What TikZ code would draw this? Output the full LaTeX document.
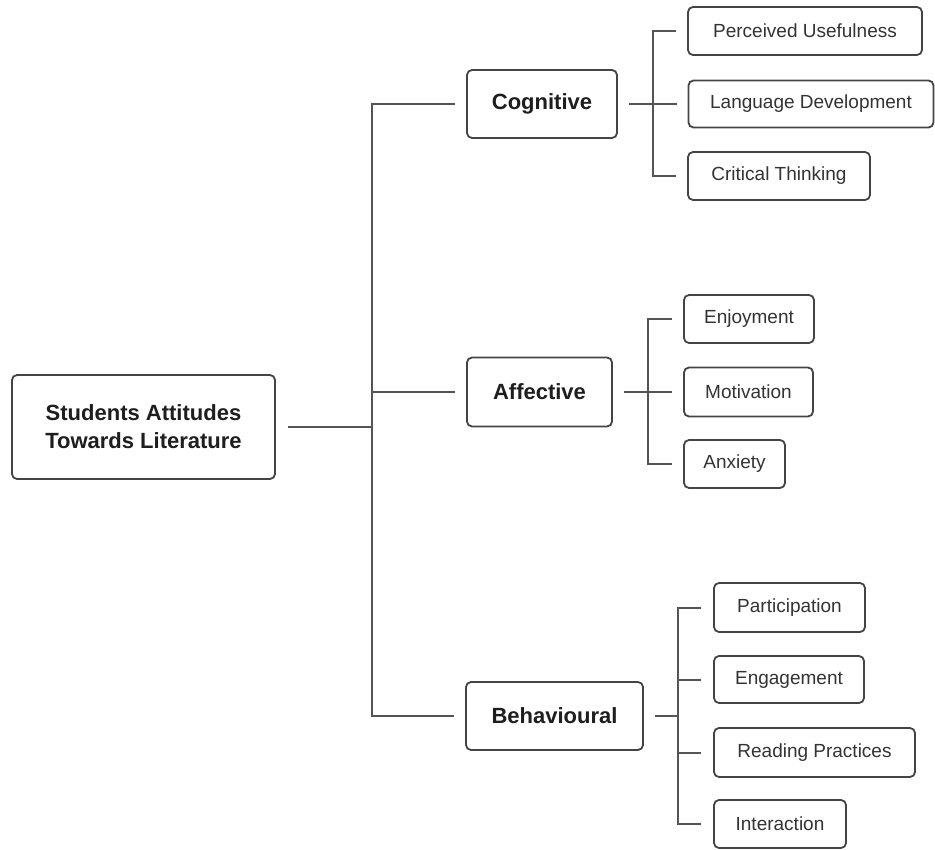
\documentclass[tikz,border=0pt]{standalone}
\usepackage{fontspec}
\setmainfont{Liberation Sans}
\definecolor{linec}{HTML}{555555}
\definecolor{boxc}{HTML}{444444}
\definecolor{textc}{HTML}{333333}
\definecolor{boldc}{HTML}{1E1E1E}
\begin{document}
\begin{tikzpicture}[x=1pt,y=-1pt,
  conn/.style={draw=linec, line width=2pt},
  box/.style={draw=boxc, line width=1.8pt, rounded corners=5pt, inner sep=0pt, align=center, fill=white},
  mainbox/.style={box, font=\fontsize{22}{28}\selectfont\bfseries, text=boldc},
  subbox/.style={box, font=\fontsize{19}{24}\selectfont, text=textc}]
\useasboundingbox (0,0) rectangle (935,850);
% nodes
\node[mainbox, minimum width=263pt, minimum height=104pt] (root) at (143.5,427) {Students Attitudes\\Towards Literature};
\node[mainbox, minimum width=150pt, minimum height=68pt] (cog) at (542,104) {Cognitive};
\node[mainbox, minimum width=145pt, minimum height=69pt] (aff) at (539.5,392) {Affective};
\node[mainbox, minimum width=177pt, minimum height=68pt] (beh) at (554.5,716) {Behavioural};
\node[subbox, minimum width=234pt, minimum height=48pt] (pu) at (805,31) {Perceived Usefulness};
\node[subbox, minimum width=245pt, minimum height=47pt] (ld) at (811,104) {Language Development};
\node[subbox, minimum width=182pt, minimum height=48pt] (ct) at (779,176) {Critical Thinking};
\node[subbox, minimum width=130pt, minimum height=48pt] (enj) at (749,319) {Enjoyment};
\node[subbox, minimum width=129pt, minimum height=49pt] (mot) at (748.5,392) {Motivation};
\node[subbox, minimum width=101pt, minimum height=48pt] (anx) at (734.5,464) {Anxiety};
\node[subbox, minimum width=151pt, minimum height=49pt] (par) at (789.5,607.5) {Participation};
\node[subbox, minimum width=150pt, minimum height=47pt] (eng) at (789,679.5) {Engagement};
\node[subbox, minimum width=201pt, minimum height=49pt] (rea) at (814.5,752.5) {Reading Practices};
\node[subbox, minimum width=132pt, minimum height=48pt] (int) at (780,824) {Interaction};
% bus coordinates
\coordinate (trunk) at (372,428);
\coordinate (cogbus) at (653,104);
\coordinate (affbus) at (648,392);
\coordinate (behbus) at (678,716);
% root to trunk
\draw[conn] ([xshift=12pt]root.east) -- (trunk |- root.east);
\draw[conn, line cap=rect] (trunk |- cog) -- (trunk |- beh);
\draw[conn] (trunk |- cog) -- ([xshift=-11pt]cog.west);
\draw[conn] (trunk |- aff) -- ([xshift=-11pt]aff.west);
\draw[conn] (trunk |- beh) -- ([xshift=-11pt]beh.west);
% cognitive
\draw[conn] ([xshift=11pt]cog.east) -- ([xshift=-11pt]ld.west);
\draw[conn] ([xshift=-11pt]pu.west) -- (cogbus |- pu) -- (cogbus |- ct) -- ([xshift=-11pt]ct.west);
% affective
\draw[conn] ([xshift=11pt]aff.east) -- ([xshift=-11pt]mot.west);
\draw[conn] ([xshift=-11pt]enj.west) -- (affbus |- enj) -- (affbus |- anx) -- ([xshift=-11pt]anx.west);
% behavioural
\draw[conn] ([xshift=11pt]beh.east) -- (behbus);
\draw[conn] ([xshift=-12pt]par.west) -- (behbus |- par) -- (behbus |- int) -- ([xshift=-12pt]int.west);
\draw[conn] (behbus |- eng) -- ([xshift=-12pt]eng.west);
\draw[conn] (behbus |- rea) -- ([xshift=-12pt]rea.west);
\end{tikzpicture}
\end{document}
